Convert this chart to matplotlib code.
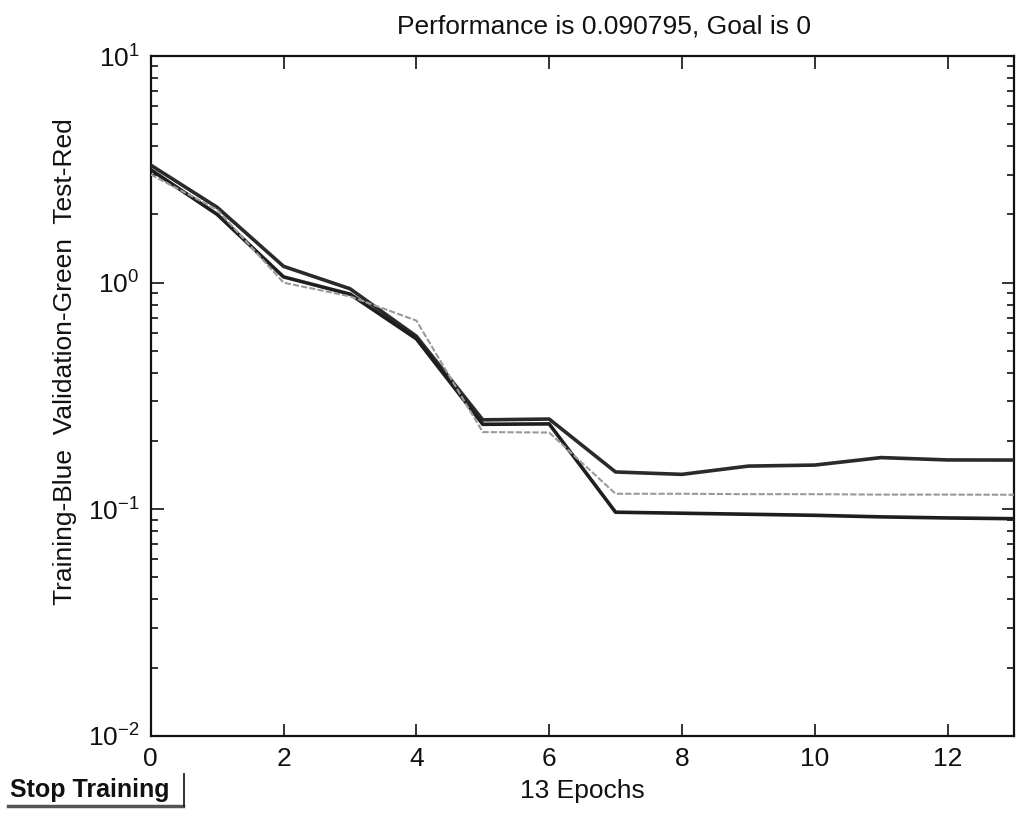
import matplotlib
matplotlib.use("Agg")
import matplotlib.pyplot as plt
from matplotlib import font_manager
from matplotlib.lines import Line2D
from matplotlib.ticker import LogLocator, FixedLocator, NullFormatter

# ---- data ----
epochs = [0, 1, 2, 3, 4, 5, 6, 7, 8, 9, 10, 11, 12, 13]
train_perf = [3.15, 2.0, 1.06, 0.89, 0.565, 0.237, 0.238, 0.097, 0.096, 0.095, 0.094, 0.0925, 0.0915, 0.0908]
valid_perf = [3.0, 2.1, 1.0, 0.87, 0.68, 0.219, 0.218, 0.117, 0.117, 0.1165, 0.1165, 0.116, 0.116, 0.1158]
test_perf = [3.3, 2.15, 1.18, 0.94, 0.58, 0.248, 0.25, 0.146, 0.1425, 0.155, 0.1566, 0.169, 0.165, 0.1648]
x_ticks = [0, 2, 4, 6, 8, 10, 12]
title_text = "Performance is 0.090795, Goal is 0"
ylabel_text = "Training-Blue  Validation-Green  Test-Red"
xlabel_text = "13 Epochs"
button_text = "Stop Training"

names = {f.name for f in font_manager.fontManager.ttflist}
fam = "Liberation Sans Narrow" if "Liberation Sans Narrow" in names else "Liberation Sans"
plt.rcParams["font.family"] = [fam, "DejaVu Sans"]
plt.rcParams["mathtext.default"] = "regular"

fig = plt.figure(figsize=(10.19, 8.13), dpi=100)
ax = fig.add_axes([0.148, 0.095, 0.847, 0.836])

ax.plot(epochs, test_perf, color="#2a2a2a", lw=2.6, zorder=3)
ax.plot(epochs, train_perf, color="#1e1e1e", lw=2.6, zorder=4)
ax.plot(epochs, valid_perf, color="#9a9a9a", lw=1.5, ls=(0, (3, 1)), zorder=5)

ax.set_yscale("log")
ax.set_ylim(1e-2, 1e1)
ax.set_xlim(0, 13)
ax.xaxis.set_major_locator(FixedLocator(x_ticks))
ax.yaxis.set_major_locator(LogLocator(base=10, numticks=10))
ax.yaxis.set_minor_locator(LogLocator(base=10, subs=range(2, 10), numticks=20))
ax.yaxis.set_minor_formatter(NullFormatter())

ax.tick_params(which="both", direction="in", top=True, right=True,
               labelsize=19, colors="#111111", width=1.2)
ax.tick_params(which="major", length=9, pad=8)
ax.tick_params(which="minor", length=5)
for s in ax.spines.values():
    s.set_linewidth(1.6)
    s.set_color("#111111")

ax.set_title(title_text, fontsize=19, pad=16, color="#111111", x=0.525)
ax.set_xlabel(xlabel_text, fontsize=19, labelpad=6, color="#111111")
ax.set_ylabel(ylabel_text, fontsize=19, color="#111111")
ax.yaxis.set_label_coords(-0.085, 0.55)

# Stop Training button
fig.text(0.010, 0.013, button_text, fontsize=18, fontweight="bold", color="#111111",
         ha="left", va="bottom")
fig.add_artist(Line2D([0.008, 0.180], [0.008, 0.008], color="#555555", lw=2.5,
                      transform=fig.transFigure))
fig.add_artist(Line2D([0.181, 0.181], [0.008, 0.048], color="#222222", lw=1.3,
                      transform=fig.transFigure))

fig.savefig("out.png", dpi=100)
